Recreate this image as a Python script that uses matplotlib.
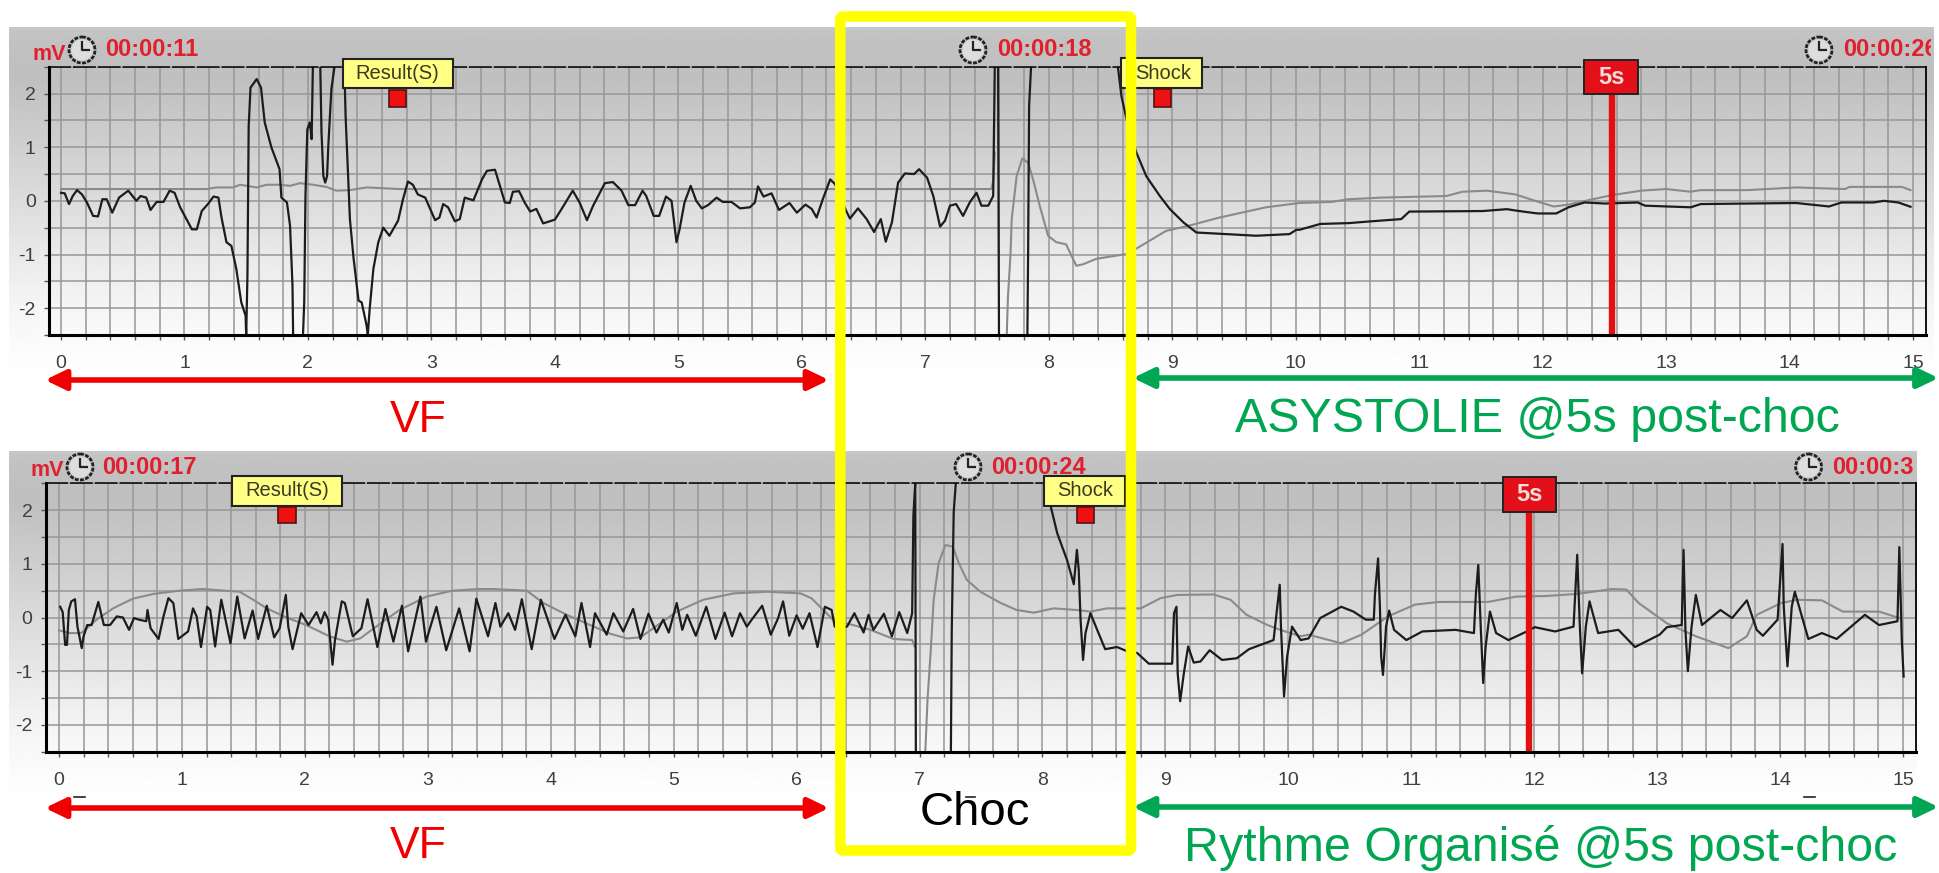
#!/usr/bin/env python3
import numpy as np
import matplotlib
matplotlib.use('Agg')
import matplotlib.pyplot as plt
from matplotlib.patches import Circle, Rectangle, FancyBboxPatch

plt.rcParams['font.family'] = ['Liberation Sans', 'DejaVu Sans']

W, H = 1939, 873
gap = np.nan

# (seconds, mV)
top_black = [(0,.15),(.03,.14),(.065,-.06),(.095,.09),(.13,.2),(.17,.12),(.21,-.03),(.26,-.28),(.30,-.29),(.335,.03),
 (.37,.03),(.415,-.22),(.47,.06),(.545,.19),(.61,0),(.645,.09),(.69,.06),(.725,-.17),(.775,-.02),(.83,-.02),(.88,.19),
 (.92,.15),(.965,-.12),(1.06,-.53),(1.10,-.53),(1.14,-.19),(1.19,-.06),(1.235,.08),(1.275,.06),(1.30,-.31),(1.34,-.77),
 (1.38,-.84),(1.42,-1.27),(1.46,-1.89),(1.495,-2.14),(1.50,-2.5),(1.51,-1.4),(1.52,1.39),(1.535,2.11),(1.585,2.27),
 (1.62,2.11),(1.65,1.46),(1.705,.99),(1.77,.59),(1.785,.06),(1.83,-.03),(1.855,-.46),(1.875,-1.58),(1.88,-2.5),(gap,gap),
 (1.96,-2.5),(1.97,-1.89),(1.98,.09),(1.995,1.33),(2.015,1.46),(2.03,1.15),(2.04,2.5),(gap,gap),
 (2.10,2.5),(2.11,1.27),(2.125,.46),(2.14,.34),(2.155,.46),(2.165,1.02),(2.19,2.08),(2.215,2.5),(gap,gap),
 (2.295,2.5),(2.305,1.58),(2.325,.46),(2.34,-.34),(2.37,-1.08),(2.41,-1.86),(2.435,-1.89),(2.475,-2.32),(2.485,-2.5),
 (2.5,-2.01),(2.53,-1.27),(2.57,-.77),(2.61,-.5),(2.66,-.65),(2.73,-.37),(2.77,.03),(2.81,.36),(2.85,.3),(2.89,.12),
 (2.95,.06),(2.99,-.15),(3.03,-.36),(3.065,-.31),(3.095,-.06),(3.135,-.12),(3.19,-.38),(3.23,-.34),(3.27,.06),(3.34,.01),
 (3.41,.4),(3.45,.56),(3.515,.58),(3.555,.28),(3.595,-.03),(3.635,-.04),(3.66,.17),(3.71,.18),(3.755,-.03),(3.80,-.2),
 (3.85,-.15),(3.905,-.42),(4.0,-.35),(4.055,-.15),(4.145,.19),(4.20,-.03),(4.26,-.36),(4.31,-.09),(4.405,.33),(4.47,.35),
 (4.54,.19),(4.595,-.08),(4.65,-.08),(4.71,.19),(4.74,.09),(4.80,-.28),(4.845,-.28),(4.90,.08),(4.945,0),(4.985,-.77),
 (5.01,-.53),(5.05,-.03),(5.10,.28),(5.145,0),(5.19,-.14),(5.24,-.08),(5.31,.06),(5.36,-.02),(5.43,-.02),(5.50,-.14),
 (5.58,-.12),(5.62,-.03),(5.645,.27),(5.69,.08),(5.755,.14),(5.815,-.17),(5.90,-.04),(5.96,-.22),(6.03,-.07),(6.08,-.15),
 (6.12,-.31),(6.17,.03),(6.23,.4),(6.27,.31),(6.36,-.19),(6.39,-.33),(6.455,-.14),(6.525,-.34),(6.585,-.58),(6.64,-.34),
 (6.68,-.76),(6.73,-.4),(6.78,.34),(6.835,.51),(6.91,.5),(6.95,.59),(7.015,.43),(7.065,.09),(7.12,-.48),(7.16,-.37),
 (7.2,-.09),(7.25,-.06),(7.306,-.28),(7.36,-.03),(7.415,.15),(7.455,-.09),(7.51,-.09),(7.55,.09),(7.563,2.5),(gap,gap),
 (7.59,2.5),(7.597,-2.5),(gap,gap),(7.827,-2.5),(7.833,-.99),(7.841,1.77),(7.857,2.5),(gap,gap),
 (8.56,2.5),(8.589,1.95),(8.63,1.52),(8.71,.9),(8.79,.46),(8.90,.09),(8.98,-.15),(9.09,-.4),(9.196,-.59),(9.44,-.62),
 (9.68,-.65),(9.95,-.62),(10.005,-.54),(10.03,-.54),(10.2,-.43),(10.43,-.415),(10.62,-.38),(10.855,-.34),(10.92,-.2),
 (11.42,-.19),(11.515,-.19),(11.71,-.155),(11.81,-.19),(11.96,-.235),(12.11,-.235),(12.21,-.12),(12.34,-.03),(12.505,-.05),
 (12.77,-.03),(12.83,-.09),(13.2,-.12),(13.28,-.06),(14.055,-.04),(14.32,-.105),(14.42,-.03),(14.68,-.03),(14.765,0),
 (14.88,-.03),(14.98,-.11)]

top_gray = [(0,.22),(1.18,.22),(1.26,.25),(1.395,.25),(1.45,.3),(1.585,.25),(1.665,.3),(1.77,.3),(1.855,.28),(1.935,.33),
 (2.04,.3),(2.15,.26),(2.23,.19),(2.34,.2),(2.475,.25),(2.745,.22),(7.535,.22),(7.55,.37),(7.563,.9),(gap,gap),
 (7.66,-2.5),(7.67,-1.77),(7.69,-1.02),(7.70,-.34),(7.74,.46),(7.786,.79),(7.833,.71),(7.873,.4),(7.927,-.09),(7.995,-.65),
 (8.06,-.77),(8.14,-.81),(8.224,-1.21),(8.28,-1.18),(8.386,-1.08),(8.63,-.99),(8.71,-.89),(8.95,-.56),(9.14,-.46),
 (9.385,-.31),(9.76,-.12),(10.03,-.04),(10.29,-.02),(10.43,.03),(10.69,.06),(11.22,.09),(11.35,.17),(11.55,.19),(11.78,.12),
 (11.94,0),(12.09,-.105),(12.21,-.07),(12.405,.03),(12.57,.11),(12.80,.19),(13.0,.22),(13.2,.17),(13.28,.2),(13.66,.2),
 (14.055,.25),(14.45,.22),(14.485,.26),(14.91,.26),(14.98,.2)]

bottom_black = [(.01,.2),(.03,.1),(.05,-.51),(.065,-.51),(.08,.14),(.10,.3),(.13,.34),(.15,-.17),(.185,-.57),(.2,-.35),
 (.23,-.14),(.265,-.14),(.32,.29),(.365,-.14),(.415,-.14),(.47,.02),(.52,0),(.57,-.23),(.61,-.01),(.65,-.04),(.71,-.07),
 (.72,.14),(.745,-.2),(.81,-.4),(.85,.02),(.89,.36),(.93,.27),(.97,-.4),(1.05,-.26),(1.09,.17),(1.12,.02),(1.155,-.55),
 (1.205,.2),(1.23,.14),(1.27,-.54),(1.32,.33),(1.395,-.48),(1.45,.39),(1.51,-.39),(1.575,.13),(1.62,-.4),(1.69,.22),
 (1.75,-.37),(1.795,-.2),(1.845,.42),(1.865,-.17),(1.90,-.59),(1.97,.08),(2.03,-.14),(2.095,.1),(2.13,-.11),(2.16,.1),
 (2.19,-.04),(2.225,-.88),(2.245,-.42),(2.30,.3),(2.325,.27),(2.39,-.35),(2.46,-.2),(2.51,.34),(2.59,-.55),(2.655,.16),
 (2.72,-.45),(2.79,.22),(2.84,-.63),(2.94,.39),(2.985,-.45),(3.07,.2),(3.15,-.61),(3.255,.17),(3.34,-.63),(3.395,.35),
 (3.49,-.35),(3.55,.27),(3.59,-.17),(3.655,.08),(3.71,-.23),(3.765,.34),(3.845,-.59),(3.92,.33),(4.03,-.4),(4.12,.05),
 (4.2,-.35),(4.25,.27),(4.32,-.55),(4.36,.08),(4.455,-.32),(4.51,.08),(4.59,-.26),(4.67,.16),(4.73,-.4),(4.795,.07),
 (4.86,-.28),(4.915,-.04),(4.96,-.28),(5.025,.27),(5.07,-.23),(5.11,.05),(5.18,-.34),(5.265,.2),(5.34,-.4),(5.415,.09),
 (5.475,-.35),(5.54,.08),(5.595,-.17),(5.635,-.04),(5.72,.22),(5.79,-.32),(5.85,-.01),(5.89,.3),(5.94,-.34),(6.0,.04),
 (6.05,-.21),(6.105,.08),(6.17,-.55),(6.23,.2),(6.285,.14),(6.31,-.17),(6.41,-.17),(6.47,.08),(6.545,-.28),(6.585,.05),
 (6.625,-.23),(6.71,.07),(6.775,-.35),(6.835,.1),(6.9,-.29),(6.94,.08),(6.95,1.9),(6.965,2.5),(6.97,-2.5),(gap,gap),
 (7.255,-2.5),(7.262,-.26),(7.278,1.97),(7.295,2.5),(gap,gap),
 (8.03,2.5),(8.064,2.1),(8.12,1.57),(8.2,1.07),(8.255,.62),(8.28,1.26),(8.295,.89),(8.31,-.04),(8.33,-.79),(8.35,-.29),
 (8.39,.08),(8.445,-.23),(8.51,-.59),(8.606,-.55),(8.69,-.63),(8.77,-.66),(8.865,-.86),(9.055,-.86),(9.07,.08),(9.09,.2),
 (9.10,-1.04),(9.12,-1.56),(9.15,-1.04),(9.185,-.54),(9.23,-.84),(9.285,-.82),(9.36,-.61),(9.46,-.79),(9.58,-.76),
 (9.68,-.59),(9.88,-.42),(9.91,.2),(9.93,.61),(9.94,-.17),(9.965,-1.47),(9.99,-.73),(10.03,-.17),(10.1,-.42),(10.165,-.39),
 (10.26,-.01),(10.43,.2),(10.53,.11),(10.63,-.04),(10.695,-.04),(10.705,.45),(10.73,1.1),(10.745,.2),(10.755,-.73),
 (10.77,-1.07),(10.795,-.17),(10.82,.13),(10.86,-.23),(10.96,-.42),(11.09,-.26),(11.36,-.23),(11.51,-.29),(11.525,.42),
 (11.545,.98),(11.565,-.17),(11.585,-1.22),(11.605,-.54),(11.64,.11),(11.69,-.29),(11.79,-.42),(11.94,-.26),(12.005,-.18),
 (12.17,-.26),(12.32,-.17),(12.35,1.17),(12.37,-.1),(12.39,-1.04),(12.42,-.17),(12.45,.3),(12.52,-.29),(12.685,-.23),
 (12.82,-.55),(13.02,-.32),(13.08,-.18),(13.2,-.14),(13.215,1.26),(13.23,-.23),(13.25,-1.0),(13.28,-.17),(13.315,.42),
 (13.365,-.14),(13.515,.14),(13.61,-.01),(13.73,.32),(13.81,-.23),(13.86,-.34),(13.98,-.04),(14.02,1.37),(14.03,.2),
 (14.06,-.91),(14.095,.2),(14.12,.48),(14.23,-.4),(14.34,-.29),(14.46,-.4),(14.69,.05),(14.805,-.14),(14.955,-.07),
 (14.97,1.31),(14.99,-.42),(15.005,-1.1)]

bottom_gray = [(0,-.24),(.09,-.29),(.18,-.29),(.305,-.04),(.44,.17),(.6,.35),(.77,.44),(.98,.5),(1.17,.53),(1.47,.48),
 (1.58,.33),(1.69,.17),(1.85,0),(2.01,-.14),(2.2,-.35),(2.34,-.45),(2.45,-.39),(2.58,-.17),(2.77,.14),(2.99,.39),(3.2,.5),
 (3.42,.53),(3.53,.53),(3.805,.5),(3.94,.27),(4.13,.05),(4.35,-.17),(4.48,-.3),(4.62,-.39),(4.73,-.37),(4.89,-.11),
 (5.025,.11),(5.24,.33),(5.49,.45),(5.76,.48),(6.03,.45),(6.12,.36),(6.23,.11),(6.31,-.07),(6.41,-.11),(6.6,-.23),
 (6.79,-.4),(6.94,-.42),(6.96,-.54),(gap,gap),(7.047,-2.5),(7.065,-1.53),(7.09,-.66),(7.115,.33),(7.155,1.01),(7.21,1.35),
 (7.27,1.32),(7.32,1.01),(7.385,.7),(7.495,.48),(7.66,.27),(7.79,.14),(7.93,.09),(8.09,.17),(8.28,.14),(8.39,.11),
 (8.525,.17),(8.69,.17),(8.8,.17),(8.96,.36),(9.095,.42),(9.39,.43),(9.53,.33),(9.66,.05),(9.83,-.14),(9.935,-.23),
 (10.1,-.35),(10.165,-.32),(10.43,-.48),(10.595,-.32),(10.81,.02),(11.03,.24),(11.225,.29),(11.625,.29),(11.855,.39),
 (12.09,.4),(12.35,.44),(12.635,.53),(12.75,.52),(12.85,.27),(13.08,-.11),(13.315,-.35),(13.58,-.57),(13.73,-.35),
 (13.81,.05),(14.01,.27),(14.14,.33),(14.34,.32),(14.51,.11),(14.805,.11),(14.97,-.01)]

x_ticks = list(range(16))
y_ticks = [-2, -1, 0, 1, 2]
y_labels = ['-2', '-1', '0', '1', '2']
top_times = ['00:00:11', '00:00:18', '00:00:26']
bottom_times = ['00:00:17', '00:00:24', '00:00:3']
top_marks = {'Result(S)': 2.73, 'Shock': 8.9, '5s': 12.56}
bottom_marks = {'Result(S)': 1.85, 'Shock': 8.35, '5s': 11.96}

RED = '#f00000'
GREEN = '#00a651'
TIME_RED = '#e0202c'


def px_axes(fig, left, top, right, bottom, **kw):
  return fig.add_axes([left/W, 1-bottom/H, (right-left)/W, (bottom-top)/H], **kw)


def make_panel(fig, box, x0, x15, black, gray, mark):
  ax = px_axes(fig, *box)
  ax.patch.set_alpha(0)
  left, top, right, bottom = box
  px_per_s = (x15-x0)/15
  ax.set_xlim((left-x0)/px_per_s, (right-x0)/px_per_s)
  ax.set_ylim(-2.5, 2.5)
  ax.set_xticks(x_ticks)
  ax.set_xticks(np.arange(0, 15.01, .2), minor=True)
  ax.set_yticks(y_ticks)
  ax.set_yticklabels(y_labels)
  ax.set_yticks(np.arange(-2.5, 2.51, .5), minor=True)
  ax.grid(True, which='both', color='#979797', lw=1.1)
  ax.set_axisbelow(True)
  ax.tick_params(which='both', color='#555555', width=1, length=3.5)
  ax.tick_params(which='major', labelsize=14, labelcolor='#3f3f3f', pad=11)
  ax.tick_params(axis='y', which='major', pad=6)
  ax.spines['left'].set_linewidth(2.2)
  ax.spines['bottom'].set_linewidth(2.2)
  ax.spines['right'].set_linewidth(1.3)
  ax.spines['top'].set_linewidth(1.1)
  ax.spines['top'].set_linestyle((0, (14, 2.2)))
  ax.plot(*np.array(gray).T, color='#8a8a8a', lw=1.5)
  ax.plot(*np.array(black).T, color='#1c1c1c', lw=1.6)
  ax.axvline(mark, color='#e31010', lw=4.6)
  return ax


def draw_clock(ov, x, y, r=13):
  ov.add_patch(Circle((x, y), r, fc='#c8c8c8', ec='#222222', lw=2, ls=(0, (1.4, .5))))
  ov.add_patch(Circle((x, y), r-2.5, fc='#dddddd', ec='none'))
  ov.plot([x, x, x+7], [y-8, y, y], color='#222222', lw=1.6)


def draw_header(ov, y, mv_x, clock_xs, text_xs, times, clip_right):
  ov.text(mv_x, y+4, 'mV', color=TIME_RED, fontsize=15.5, fontweight='bold', ha='left', va='center')
  for cx, tx, label in zip(clock_xs, text_xs, times):
    draw_clock(ov, cx, y)
    t = ov.text(tx, y, label, color=TIME_RED, fontsize=17, fontweight='bold', ha='left', va='center')
    t.set_clip_path(Rectangle((0, 0), clip_right, H, transform=ov.transData))
    t.set_clip_on(True)


def draw_note(ov, box, square, label, text_x):
  l, t, r, b = box
  ov.add_patch(Rectangle((l, t), r-l, b-t, fc='#ffff85', ec='#222222', lw=1.5))
  ov.text(text_x, (t+b)/2, label, fontsize=14.5, color='#3a3a20', ha='center', va='center')
  l, t, r, b = square
  ov.add_patch(Rectangle((l, t), r-l, b-t, fc='#ee1111', ec='#551111', lw=1.2))


def draw_flag(ov, box):
  l, t, r, b = box
  ov.add_patch(Rectangle((l, t), r-l, b-t, fc='#e3101a', ec='#222222', lw=1.4))
  ov.text((l+r)/2, (t+b)/2, '5s', color='#f7dcdc', fontsize=17, fontweight='bold', ha='center', va='center')


def draw_arrow(ov, x1, x2, y, color):
  ov.annotate('', xy=(x2, y), xytext=(x1, y), annotation_clip=False,
              arrowprops=dict(arrowstyle='<|-|>,head_length=.62,head_width=.3', mutation_scale=20, lw=4,
                              color=color, shrinkA=0, shrinkB=0))


fig = plt.figure(figsize=(W/100, H/100), dpi=100, facecolor='white')

bg = fig.add_axes([0, 0, 1, 1], zorder=0)
bg.axis('off')
for l, t, r, fade_end in [(9, 27, 1934, 375), (9, 451, 1917, 800)]:
  ys = np.linspace(t, fade_end, 200)
  shade = np.interp(ys, [t, t+10, t+50, fade_end-70, fade_end], [.78, .76, .75, .96, 1.0])
  bg.imshow(shade[:, None], extent=(l, r, fade_end, t), cmap='gray', vmin=0, vmax=1, aspect='auto')
bg.set_xlim(0, W)
bg.set_ylim(H, 0)

top_ax = make_panel(fig, (49, 66.7, 1925.5, 335), 61, 1913, top_black, top_gray, top_marks['5s'])
bottom_ax = make_panel(fig, (45.7, 483.3, 1916, 751.7), 59, 1903, bottom_black, bottom_gray, bottom_marks['5s'])
top_ax.set_zorder(1)
bottom_ax.set_zorder(1)

ov = fig.add_axes([0, 0, 1, 1], zorder=2)
ov.patch.set_alpha(0)
ov.set_xlim(0, W)
ov.set_ylim(H, 0)
ov.axis('off')

draw_header(ov, 50, 32, (82, 973, 1819), (105, 997, 1843), top_times, 1931)
draw_header(ov, 467, 30, (80, 968, 1808.6), (102, 991, 1832), bottom_times, 1916)

draw_note(ov, (342.7, 59, 452.7, 88), (389, 90, 406, 107), 'Result(S)', 397.5)
draw_note(ov, (1120.7, 58.3, 1201.7, 88.3), (1154.3, 89, 1171, 106.7), 'Shock', 1163)
draw_note(ov, (231.7, 476, 342.3, 505.7), (278.3, 506.7, 295.7, 523.3), 'Result(S)', 287)
draw_note(ov, (1044.3, 476, 1125, 505.7), (1077.3, 506.7, 1094.3, 523.3), 'Shock', 1085)
draw_flag(ov, (1584.4, 60, 1638.2, 94.3))
draw_flag(ov, (1502.5, 477.3, 1556, 511.7))

draw_arrow(ov, 45, 829, 380, RED)
draw_arrow(ov, 45, 829, 808, RED)
draw_arrow(ov, 1133, 1938.5, 378, GREEN)
draw_arrow(ov, 1133, 1938.5, 807, GREEN)

# stray dashes left over in the source slide
for x1, x2 in [(74, 85), (966, 975), (1804, 1815)]:
  ov.plot([x1, x2], [797, 797], color='#222222', lw=1.2)

ov.text(418, 420, 'VF', color=RED, fontsize=32, ha='center', va='center')
ov.text(418, 847, 'VF', color=RED, fontsize=32, ha='center', va='center')
ov.text(1537, 420, 'ASYSTOLIE @5s post-choc', color=GREEN, fontsize=34.8, ha='center', va='center')
ov.text(1541, 848, 'Rythme Organisé @5s post-choc', color=GREEN, fontsize=34.8, ha='center', va='center')
ov.text(975, 813, 'Choc', color='black', fontsize=34, ha='center', va='center')

ov.add_patch(FancyBboxPatch((840.3, 16.5), 290.7, 834, boxstyle='round,pad=0,rounding_size=3',
                            fc='none', ec='#ffff00', lw=7.6))

fig.savefig('out.png', dpi=100)
